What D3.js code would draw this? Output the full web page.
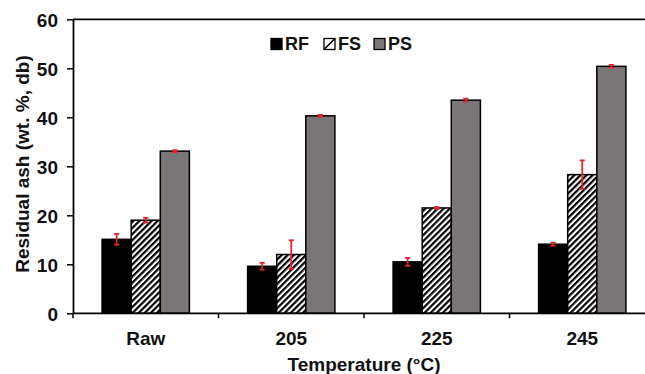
<!DOCTYPE html>
<html><head><meta charset="utf-8">
<script src="https://cdn.jsdelivr.net/npm/d3@7"></script>
<style>
html,body{margin:0;padding:0;background:#fff;overflow:hidden;}
text{font-family:"Liberation Sans",Arial,sans-serif;font-weight:bold;fill:#111;}
</style></head>
<body>
<svg id="c" width="645" height="374"></svg>
<script>
const categories = ["Raw", "205", "225", "245"];
const seriesNames = ["RF", "FS", "PS"];
const rfValues = [15.1, 9.6, 10.5, 14.1];
const rfErrors = [1.1, 0.7, 0.8, 0.3];
const fsValues = [19.0, 12.0, 21.5, 28.3];
const fsErrors = [0.5, 2.9, 0.2, 2.9];
const psValues = [33.1, 40.3, 43.5, 50.4];
const psErrors = [0.2, 0.2, 0.3, 0.3];
const yTicks = [0, 10, 20, 30, 40, 50, 60];

const seriesVals = {RF: rfValues, FS: fsValues, PS: psValues};
const seriesErrs = {RF: rfErrors, FS: fsErrors, PS: psErrors};
const fills = {RF: "#000", FS: "url(#hatch)", PS: "#7a7677"};

const svg = d3.select("#c");
const defs = svg.append("defs");
const pat = defs.append("pattern").attr("id","hatch").attr("patternUnits","userSpaceOnUse")
  .attr("width",4.3).attr("height",4.3).attr("patternTransform","rotate(45)");
pat.append("rect").attr("width",4.3).attr("height",4.3).attr("fill","#fff");
pat.append("line").attr("x1",1.1).attr("y1",0).attr("x2",1.1).attr("y2",4.3)
  .attr("stroke","#000").attr("stroke-width",2.2);

const x0 = d3.scaleBand().domain(categories).range([73, 655]).paddingInner(0.4).paddingOuter(0.2);
const x1 = d3.scaleBand().domain(seriesNames).range([0, x0.bandwidth()]).padding(0);
const y = d3.scaleLinear().domain([0, 60]).range([313.3, 19.3]);

// top border
svg.append("line").attr("x1",73).attr("x2",655).attr("y1",y(60)).attr("y2",y(60))
  .attr("stroke","#000").attr("stroke-width",1.8);

// bars
const data = [];
categories.forEach((c,i)=>seriesNames.forEach(s=>data.push({c, s, v: seriesVals[s][i], e: seriesErrs[s][i]})));
const g = svg.append("g");
g.selectAll("rect.bar").data(data).join("rect").attr("class","bar")
  .attr("x", d=>x0(d.c)+x1(d.s)).attr("width", x1.bandwidth())
  .attr("y", d=>y(d.v)).attr("height", d=>y(0)-y(d.v))
  .attr("fill", d=>fills[d.s]).attr("stroke","#000").attr("stroke-width",1.5);

// error bars
const eg = svg.append("g").attr("stroke","#e3262b").attr("stroke-width",1.8);
data.forEach(d=>{
  const cx = x0(d.c)+x1(d.s)+x1.bandwidth()/2;
  eg.append("line").attr("x1",cx).attr("x2",cx).attr("y1",y(d.v+d.e)).attr("y2",y(d.v-d.e));
  [d.v+d.e, d.v-d.e].forEach(t=>eg.append("line").attr("x1",cx-2.6).attr("x2",cx+2.6).attr("y1",y(t)).attr("y2",y(t)));
});

// y axis
const ya = svg.append("g").attr("transform","translate(73,0)")
  .call(d3.axisLeft(y).tickValues(yTicks).tickSize(6).tickSizeOuter(0).tickPadding(9));
ya.select(".domain").attr("stroke","#000").attr("stroke-width",1.8);
ya.selectAll(".tick line").attr("stroke","#000").attr("stroke-width",1.5);
ya.selectAll(".tick text").style("font-size","19px").attr("dy","0.36em").style("fill","#111");

// x axis
svg.append("line").attr("x1",73).attr("x2",655).attr("y1",y(0)).attr("y2",y(0))
  .attr("stroke","#000").attr("stroke-width",1.8);
const bounds = categories.map(c=>x0(c)-x0.step()*x0.paddingInner()/2 + 0);
bounds[0] = 73;
bounds.push(655);
const bStarts = categories.map((c,i)=> i===0 ? 73 : (x0(categories[i-1])+x0.bandwidth()+x0(c))/2);
bStarts.forEach(bx=>svg.append("line").attr("x1",bx).attr("x2",bx).attr("y1",y(0)).attr("y2",y(0)+5)
  .attr("stroke","#000").attr("stroke-width",1.5));
svg.append("g").selectAll("text.xl").data(categories).join("text").attr("class","xl")
  .attr("x", c=>x0(c)+x0.bandwidth()/2).attr("y",345).attr("text-anchor","middle")
  .style("font-size","19px").text(c=>c);

// axis titles
svg.append("text").attr("x",364).attr("y",371).attr("text-anchor","middle")
  .style("font-size","19px").text("Temperature (°C)");
svg.append("text").attr("transform","translate(29,164) rotate(-90)").attr("text-anchor","middle")
  .style("font-size","19px").text("Residual ash (wt. %, db)");

// legend
const legX = {RF: 271, FS: 324, PS: 374};
seriesNames.forEach(s=>{
  const lx = legX[s];
  svg.append("rect").attr("x",lx).attr("y",38.5).attr("width",11).attr("height",11)
    .attr("fill", s==="FS" ? "#fff" : fills[s]).attr("stroke","#000").attr("stroke-width",1.3);
  if (s==="FS") svg.append("line").attr("x1",lx).attr("y1",49.5).attr("x2",lx+11).attr("y2",38.5)
    .attr("stroke","#000").attr("stroke-width",1.6);
  svg.append("text").attr("x",lx+14).attr("y",50).style("font-size","18px").text(s);
});
</script>
</body></html>
